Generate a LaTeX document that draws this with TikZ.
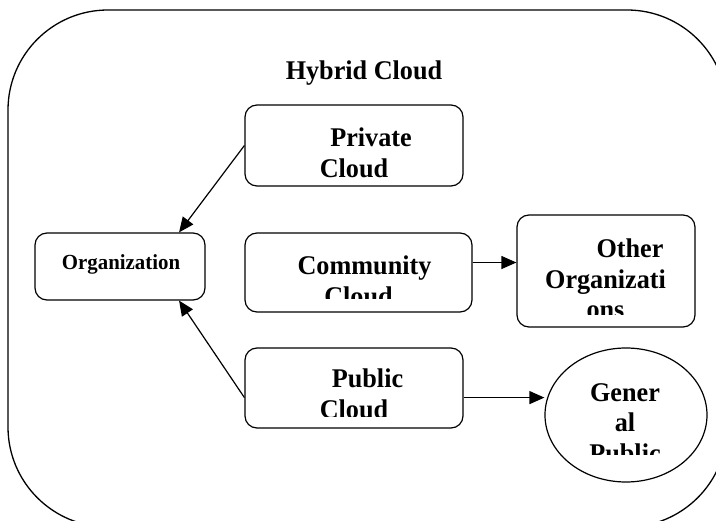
\documentclass[tikz,border=0pt]{standalone}
\usepackage{fontspec}
\setmainfont{Liberation Serif}
\newfontfamily\boxfont[FakeStretch=0.97]{Liberation Serif}
\usetikzlibrary{positioning, arrows.meta, shapes.geometric}

\tikzset{
  cbox/.style={draw, line width=1.2pt, rounded corners=12pt, inner sep=0pt},
  ctext/.style={anchor=north, inner sep=0pt, align=center, font=\boxfont\fontsize{27}{30.5}\selectfont\bfseries},
  flow/.style={line width=1.2pt, -{Triangle[length=15pt, width=13pt]}}
}

\begin{document}
\begin{tikzpicture}[x=1pt, y=-1pt]
  \useasboundingbox (0,0) rectangle (716,521);
  \clip (0,0) rectangle (716,521);
  \draw[line width=1.3pt, rounded corners=100pt] (8,10) rectangle (727,527);

  \node[ctext] (title) at (364,61) {Hybrid Cloud};

  % left side
  \node[cbox, minimum width=170pt, minimum height=67pt] (org) at (120,266.5) {};
  \node[ctext, font=\boxfont\fontsize{21.5}{25}\selectfont\bfseries] (orgtext) at (121,254) {Organization};

  % middle column
  \node[cbox, minimum width=218pt, minimum height=81pt] (private) at (354,145.5) {};
  \node[ctext] (privatetext) at (354,128) {\hspace*{34pt}Private\\Cloud};

  \node[cbox, minimum width=227pt, minimum height=79pt] (community) at (358.5,272.5) {};
  \begin{scope}
    \clip (245,233) rectangle (472,299);
    \node[ctext] (communitytext) at (358.5,256) {\hspace*{12pt}Community\\Cloud};
  \end{scope}

  \node[cbox, minimum width=218pt, minimum height=80pt] (public) at (354,388) {};
  \begin{scope}
    \clip (245,348) rectangle (463,417);
    \node[ctext] (publictext) at (354,369) {\hspace*{27pt}Public\\Cloud};
  \end{scope}

  % right side
  \node[cbox, minimum width=178pt, minimum height=112pt] (others) at (606,271) {};
  \begin{scope}
    \clip (517,215) rectangle (695,315);
    \node[ctext] (otherstext) at (605.5,239) {\hspace*{49pt}Other\\Organizati\\ons};
  \end{scope}

  \node[draw, ellipse, line width=1.2pt, inner sep=0pt, minimum width=162pt, minimum height=134pt] (general) at (626,415) {};
  \begin{scope}
    \clip (545,348) rectangle (707,455);
    \node[ctext] (generaltext) at (625,383) {Gener\\al\\Public};
  \end{scope}

  % arrows
  \draw[flow] (private.west) -- (org.30);
  \draw[flow] (public.185) -- (org.-30);
  \draw[flow] (community.5) -- (community.5 -| others.west);
  \draw[flow] (public.-5) -- (public.-5 -| general.west);
\end{tikzpicture}
\end{document}
